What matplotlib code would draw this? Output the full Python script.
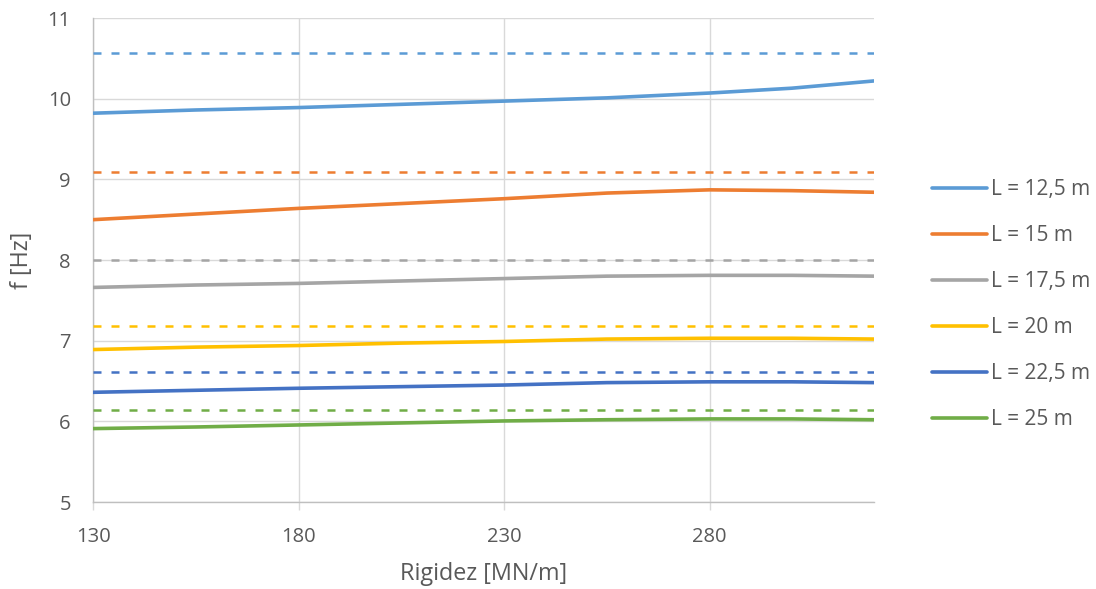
import matplotlib.pyplot as plt

plt.rcParams['font.family'] = ['Open Sans', 'DejaVu Sans']

# Rigidez [MN/m]
rigidez = [130, 155, 180, 205, 230, 255, 280, 300, 320]

# frecuencias f [Hz]
f_12_5 = [9.82, 9.86, 9.89, 9.93, 9.97, 10.01, 10.07, 10.13, 10.22]
f_15 = [8.50, 8.57, 8.64, 8.70, 8.76, 8.83, 8.87, 8.86, 8.84]
f_17_5 = [7.66, 7.69, 7.71, 7.74, 7.77, 7.80, 7.81, 7.81, 7.80]
f_20 = [6.89, 6.92, 6.94, 6.97, 6.99, 7.02, 7.03, 7.03, 7.02]
f_22_5 = [6.36, 6.385, 6.41, 6.43, 6.45, 6.48, 6.49, 6.49, 6.48]
f_25 = [5.91, 5.93, 5.955, 5.98, 6.005, 6.02, 6.03, 6.03, 6.02]

# valores de referencia (lineas discontinuas)
f_ref = [10.57, 9.09, 8.00, 7.18, 6.61, 6.14]

labels = ['L = 12,5 m', 'L = 15 m', 'L = 17,5 m', 'L = 20 m', 'L = 22,5 m', 'L = 25 m']
colores = ['#5B9BD5', '#ED7D31', '#A5A5A5', '#FFC000', '#4472C4', '#70AD47']
series = [f_12_5, f_15, f_17_5, f_20, f_22_5, f_25]

txt = '#595959'

fig = plt.figure(figsize=(10.96, 5.89), dpi=100)
ax = fig.add_axes([0.0849, 0.1477, 0.7125, 0.8217])

for ref, c in zip(f_ref, colores):
    ax.axhline(ref, color=c, lw=1.8, linestyle=(0, (3.2, 4.0)), zorder=3)

for y, lab, c in zip(series, labels, colores):
    ax.plot(rigidez, y, color=c, lw=2.6, label=lab, zorder=4, solid_capstyle='round')

ax.set_xlim(130, 320)
ax.set_ylim(5, 11)
ax.set_xticks([130, 180, 230, 280])
ax.set_yticks(range(5, 12))
ax.grid(True, color='#D9D9D9', lw=1)
ax.set_axisbelow(True)

for s in ['top', 'right']:
    ax.spines[s].set_visible(False)
for s in ['left', 'bottom']:
    ax.spines[s].set_color('#BFBFBF')
    ax.spines[s].set_linewidth(1)

ax.tick_params(axis='y', length=0, pad=16, labelsize=14.5, labelcolor=txt)
ax.tick_params(axis='x', length=6, width=1, color='#D9D9D9', pad=12, labelsize=14.5, labelcolor=txt)

ax.set_xlabel('Rigidez [MN/m]', fontsize=16.8, color=txt, labelpad=11)
ax.set_ylabel('f [Hz]', fontsize=16.8, color=txt, labelpad=10)

leg = ax.legend(loc='center left', bbox_to_anchor=(0.850, 0.483), bbox_transform=fig.transFigure,
                frameon=False, fontsize=15, handlelength=2.65, handletextpad=0.2,
                labelspacing=1.2, borderpad=0, borderaxespad=0)
for t in leg.get_texts():
    t.set_color(txt)

fig.savefig('out.png', dpi=100)
